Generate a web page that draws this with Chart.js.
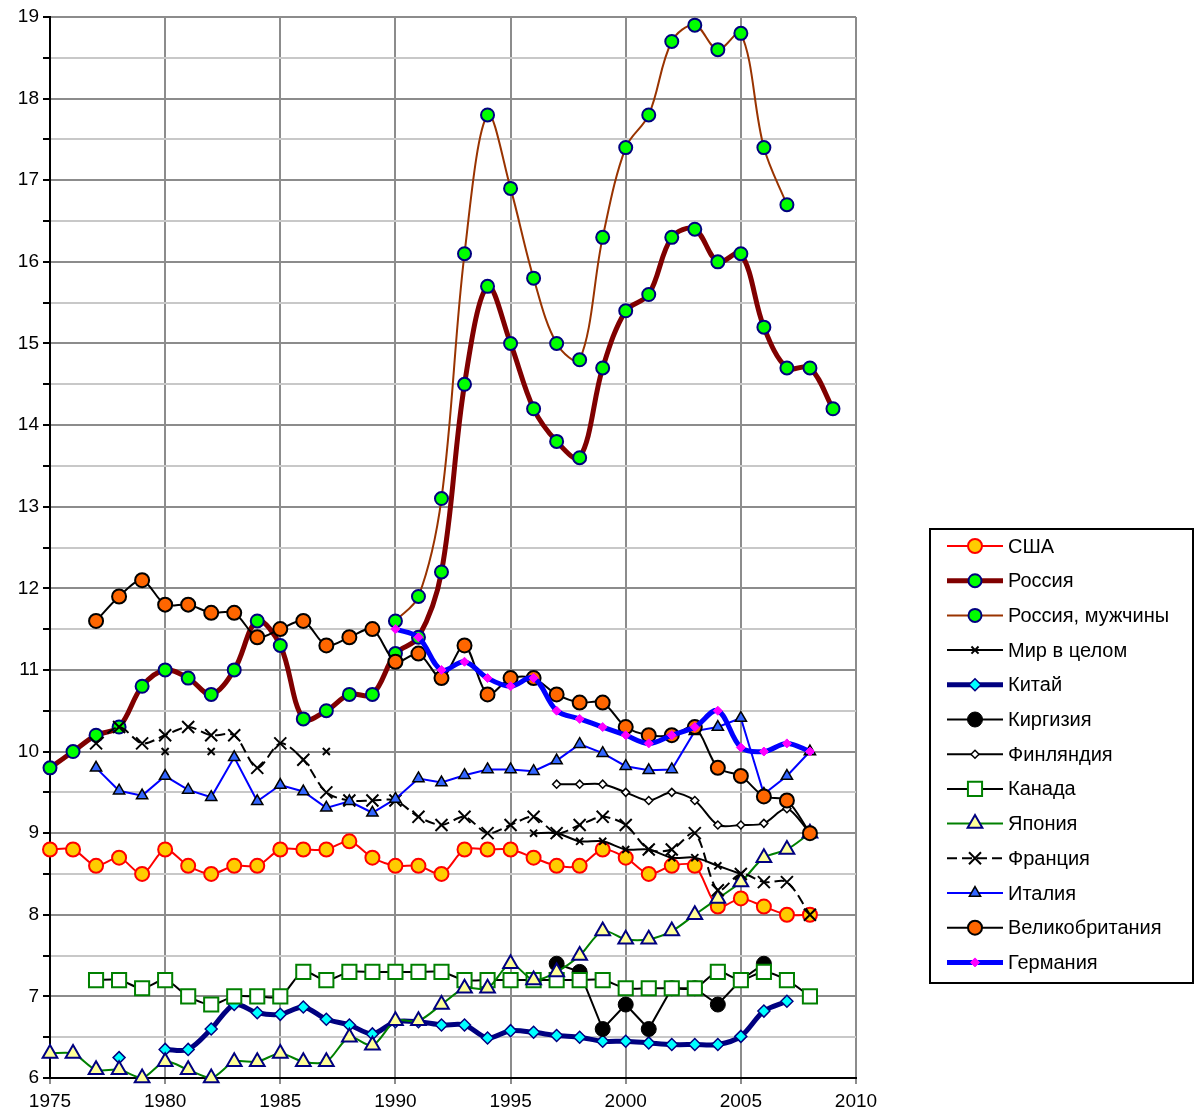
<!DOCTYPE html>
<html>
<head>
<meta charset="utf-8">
<script src="https://cdn.jsdelivr.net/npm/chart.js@4.4.0/dist/chart.umd.min.js"></script>
<style>
  body { margin: 0; background: #fff; }
</style>
</head>
<body>
<canvas id="mortChart" width="1196" height="1115"></canvas>
<script>
const years = [1975, 1976, 1977, 1978, 1979, 1980, 1981, 1982, 1983, 1984,
               1985, 1986, 1987, 1988, 1989, 1990, 1991, 1992, 1993, 1994,
               1995, 1996, 1997, 1998, 1999, 2000, 2001, 2002, 2003, 2004,
               2005, 2006, 2007, 2008, 2009];

const usa = [8.8, 8.8, 8.6, 8.7, 8.5, 8.8, 8.6, 8.5, 8.6, 8.6,
             8.8, 8.8, 8.8, 8.9, 8.7, 8.6, 8.6, 8.5, 8.8, 8.8,
             8.8, 8.7, 8.6, 8.6, 8.8, 8.7, 8.5, 8.6, 8.6, 8.1,
             8.2, 8.1, 8.0, 8.0, null];
const russia = [9.8, 10.0, 10.2, 10.3, 10.8, 11.0, 10.9, 10.7, 11.0, 11.6,
                11.3, 10.4, 10.5, 10.7, 10.7, 11.2, 11.4, 12.2, 14.5, 15.7,
                15.0, 14.2, 13.8, 13.6, 14.7, 15.4, 15.6, 16.3, 16.4, 16.0,
                16.1, 15.2, 14.7, 14.7, 14.2];
const russiaMen = [null, null, null, null, null, null, null, null, null, null,
                   null, null, null, null, null, 11.6, 11.9, 13.1, 16.1, 17.8,
                   16.9, 15.8, 15.0, 14.8, 16.3, 17.4, 17.8, 18.7, 18.9, 18.6,
                   18.8, 17.4, 16.7, null, null];
const world = [null, null, null, null, null, 10.0, null, 10.0, null, null,
               null, null, 10.0, null, null, null, null, null, null, null,
               null, 9.0, 9.0, 8.9, 8.9, 8.8, 8.8, 8.7, 8.7, 8.6,
               8.5, null, null, null, null];
const china = [null, null, null, 6.25, null, 6.35, 6.35, 6.6, 6.9, 6.8,
               6.78, 6.87, 6.72, 6.65, 6.54, 6.69, 6.69, 6.65, 6.65, 6.49,
               6.58, 6.56, 6.52, 6.5, 6.45, 6.45, 6.43, 6.41, 6.41, 6.41,
               6.51, 6.82, 6.94, null, null];
const kyrgyzstan = [null, null, null, null, null, null, null, null, null, null,
                    null, null, null, null, null, null, null, null, null, null,
                    null, null, 7.4, 7.3, 6.6, 6.9, 6.6, 7.1, 7.1, 6.9,
                    7.2, 7.4, null, null, null];
const finland = [null, null, null, null, null, null, null, null, null, null,
                 null, null, null, null, null, null, null, null, null, null,
                 null, null, 9.6, 9.6, 9.6, 9.5, 9.4, 9.5, 9.4, 9.1,
                 9.1, 9.12, 9.3, 9.0, null];
const canada = [null, null, 7.2, 7.2, 7.1, 7.2, 7.0, 6.9, 7.0, 7.0,
                7.0, 7.3, 7.2, 7.3, 7.3, 7.3, 7.3, 7.3, 7.2, 7.2,
                7.2, 7.2, 7.2, 7.2, 7.2, 7.1, 7.1, 7.1, 7.1, 7.3,
                7.2, 7.3, 7.2, 7.0, null];
const japan = [6.3, 6.3, 6.1, 6.1, 6.0, 6.2, 6.1, 6.0, 6.2, 6.2,
               6.3, 6.2, 6.2, 6.5, 6.4, 6.7, 6.7, 6.9, 7.1, 7.1,
               7.4, 7.2, 7.3, 7.5, 7.8, 7.7, 7.7, 7.8, 8.0, 8.2,
               8.4, 8.7, 8.8, 9.0, null];
const france = [null, null, 10.1, 10.3, 10.1, 10.2, 10.3, 10.2, 10.2, 9.8,
                10.1, 9.9, 9.5, 9.4, 9.4, 9.4, 9.2, 9.1, 9.2, 9.0,
                9.1, 9.2, 9.0, 9.1, 9.2, 9.1, 8.8, 8.8, 9.0, 8.3,
                8.5, 8.4, 8.4, 8.0, null];
const italy = [null, null, 9.8, 9.52, 9.46, 9.7, 9.53, 9.44, 9.93, 9.39,
               9.59, 9.51, 9.31, 9.39, 9.25, 9.42, 9.67, 9.62, 9.71, 9.78,
               9.78, 9.76, 9.89, 10.09, 9.98, 9.82, 9.77, 9.78, 10.25, 10.3,
               10.41, 9.48, 9.7, 10.0, null];
const uk = [null, null, 11.6, 11.9, 12.1, 11.8, 11.8, 11.7, 11.7, 11.4,
            11.5, 11.6, 11.3, 11.4, 11.5, 11.1, 11.2, 10.9, 11.3, 10.7,
            10.9, 10.9, 10.7, 10.6, 10.6, 10.3, 10.2, 10.2, 10.3, 9.8,
            9.7, 9.45, 9.4, 9.0, null];
const germany = [null, null, null, null, null, null, null, null, null, null,
                 null, null, null, null, null, 11.5, 11.4, 11.0, 11.1, 10.9,
                 10.8, 10.9, 10.5, 10.4, 10.3, 10.2, 10.1, 10.2, 10.3, 10.5,
                 10.05, 10.0, 10.1, 10.0, null];

const FONT = '"Liberation Sans", Arial, sans-serif';

function makeSet(label, values, s) {
    return {
        label: label,
        data: years.map((yr, i) => ({ x: yr, y: values[i] })),
        borderColor: s.line,
        borderWidth: s.width,
        borderDash: s.dash || [],
        tension: s.tension,
        pointStyle: s.marker,
        pointRadius: s.radius,
        pointBackgroundColor: s.fill,
        pointBorderColor: s.edge,
        pointBorderWidth: s.edgeWidth,
        clip: false
    };
}

const datasets = [
    makeSet('США', usa, { line: '#ff0000', width: 2, tension: 0.3, marker: 'circle', radius: 7, fill: '#ffcc00', edge: '#ff0000', edgeWidth: 2 }),
    makeSet('Россия', russia, { line: '#800000', width: 5, tension: 0.35, marker: 'circle', radius: 6.5, fill: '#00ff00', edge: '#000080', edgeWidth: 2 }),
    makeSet('Россия, мужчины', russiaMen, { line: '#993300', width: 2, tension: 0.35, marker: 'circle', radius: 6.5, fill: '#00ff00', edge: '#000080', edgeWidth: 2 }),
    makeSet('Мир в целом', world, { line: '#000000', width: 2, tension: 0.3, marker: 'crossRot', radius: 5, fill: '#000000', edge: '#000000', edgeWidth: 2 }),
    makeSet('Китай', china, { line: '#000080', width: 5, tension: 0.3, marker: 'rectRot', radius: 6, fill: '#00ffff', edge: '#000080', edgeWidth: 1.5 }),
    makeSet('Киргизия', kyrgyzstan, { line: '#000000', width: 2, tension: 0, marker: 'circle', radius: 7.5, fill: '#000000', edge: '#000000', edgeWidth: 1 }),
    makeSet('Финляндия', finland, { line: '#000000', width: 2, tension: 0.3, marker: 'rectRot', radius: 4, fill: '#ffffff', edge: '#000000', edgeWidth: 1.5 }),
    makeSet('Канада', canada, { line: '#000000', width: 2, tension: 0.3, marker: 'rect', radius: 10, fill: '#ffffff', edge: '#008000', edgeWidth: 2 }),
    makeSet('Япония', japan, { line: '#008000', width: 2, tension: 0.3, marker: 'triangle', radius: 8.5, fill: '#ffff99', edge: '#000080', edgeWidth: 2 }),
    makeSet('Франция', france, { line: '#000000', width: 2, dash: [10, 5], tension: 0.3, marker: 'crossRot', radius: 8.5, fill: '#000000', edge: '#000000', edgeWidth: 2 }),
    makeSet('Италия', italy, { line: '#0000ff', width: 2, tension: 0, marker: 'triangle', radius: 6.5, fill: '#3366ff', edge: '#000000', edgeWidth: 1.5 }),
    makeSet('Великобритания', uk, { line: '#000000', width: 2, tension: 0.3, marker: 'circle', radius: 7, fill: '#ff6600', edge: '#000000', edgeWidth: 2 }),
    makeSet('Германия', germany, { line: '#0000ff', width: 5, tension: 0.35, marker: 'rectRot', radius: 4.5, fill: '#ff00ff', edge: '#ff00ff', edgeWidth: 1 })
];
// later series are painted over earlier ones, like the original
datasets.forEach((ds, i) => { ds.order = datasets.length - i; });

// boxed legend: line sample with the marker in its middle
const boxLegend = {
    id: 'boxLegend',
    afterDraw(chart) {
        const ctx = chart.ctx;
        ctx.save();
        ctx.strokeStyle = '#000';
        ctx.lineWidth = 2;
        ctx.setLineDash([]);
        ctx.strokeRect(930, 529, 263, 454);
        ctx.font = '20px ' + FONT;
        ctx.textBaseline = 'middle';
        chart.data.datasets.forEach((ds, i) => {
            const y = 546 + i * 34.7;
            ctx.strokeStyle = ds.borderColor;
            ctx.lineWidth = ds.borderWidth;
            ctx.setLineDash(ds.borderDash);
            ctx.beginPath();
            ctx.moveTo(947, y);
            ctx.lineTo(1003, y);
            ctx.stroke();
            ctx.setLineDash([]);
            ctx.fillStyle = ds.pointBackgroundColor;
            ctx.strokeStyle = ds.pointBorderColor;
            ctx.lineWidth = ds.pointBorderWidth;
            Chart.helpers.drawPoint(ctx, {
                pointStyle: ds.pointStyle,
                radius: ds.pointRadius,
                borderWidth: ds.pointBorderWidth,
                rotation: 0
            }, 975, y);
            ctx.fillStyle = '#000';
            ctx.fillText(ds.label, 1008, y + 1);
        });
        ctx.restore();
    }
};

Chart.defaults.font.family = FONT;
Chart.defaults.font.size = 19;
Chart.defaults.color = '#000';

new Chart(document.getElementById('mortChart'), {
    type: 'line',
    data: { datasets: datasets },
    options: {
        responsive: false,
        animation: false,
        events: [],
        layout: { padding: { top: 17, right: 340, left: 0, bottom: 0 } },
        plugins: {
            legend: { display: false },
            tooltip: { enabled: false }
        },
        scales: {
            x: {
                type: 'linear',
                min: 1975,
                max: 2010,
                afterFit: (scale) => { scale.height = 37; },
                ticks: { stepSize: 5, padding: 6, callback: (v) => String(v) },
                grid: { color: '#8c8c8c', lineWidth: 2, tickLength: 6, tickColor: '#8c8c8c' },
                border: { color: '#000', width: 2 }
            },
            y: {
                min: 6,
                max: 19,
                afterFit: (scale) => { scale.width = 50; },
                ticks: {
                    stepSize: 0.5,
                    autoSkip: false,
                    padding: 4,
                    callback: (v) => (v % 1 === 0 ? String(v) : '')
                },
                grid: {
                    color: (c) => (c.tick && c.tick.value % 1 === 0 ? '#8c8c8c' : '#c8c8c8'),
                    lineWidth: 2,
                    tickLength: 7,
                    tickColor: '#000'
                },
                border: { color: '#000', width: 2 }
            }
        }
    },
    plugins: [boxLegend]
});
</script>
</body>
</html>
